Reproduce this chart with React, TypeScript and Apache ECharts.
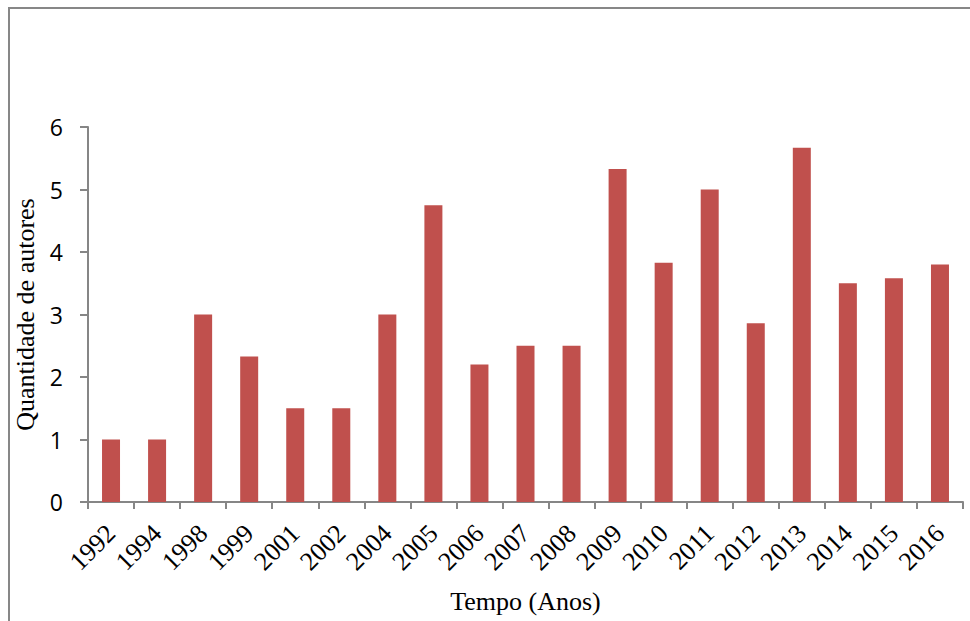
import React, { useEffect, useRef } from "react";
import * as echarts from "echarts";

const years = ["1992","1994","1998","1999","2001","2002","2004","2005","2006","2007","2008","2009","2010","2011","2012","2013","2014","2015","2016"];
const authors = [1, 1, 3, 2.33, 1.5, 1.5, 3, 4.75, 2.2, 2.5, 2.5, 5.33, 3.83, 5, 2.86, 5.67, 3.5, 3.58, 3.8];
const yTicks = [0, 1, 2, 3, 4, 5, 6];

export default function App() {
  const ref = useRef<HTMLDivElement>(null);
  useEffect(() => {
    const chart = echarts.init(ref.current!, undefined, { renderer: "svg" });
    chart.setOption({
      animation: false,
      backgroundColor: "#ffffff",
      graphic: [
        {
          type: "rect",
          shape: { x: 9, y: 8, width: 1100, height: 1000 },
          style: { fill: "none", stroke: "#878787", lineWidth: 2 },
          silent: true,
        },
      ],
      grid: { left: 88, right: 7, top: 127, bottom: 119 },
      xAxis: {
        type: "category",
        data: years,
        name: "Tempo (Anos)",
        nameLocation: "middle",
        nameGap: 86,
        nameTextStyle: { fontFamily: "Liberation Serif", fontSize: 26, color: "#000" },
        axisLine: { lineStyle: { color: "#868686", width: 2 } },
        axisTick: { show: true, length: 7, lineStyle: { color: "#868686", width: 2 } },
        axisLabel: {
          rotate: 45,
          margin: 27,
          interval: 0,
          fontFamily: "Liberation Serif",
          fontSize: 26,
          color: "#000",
        },
      },
      yAxis: {
        type: "value",
        min: yTicks[0],
        max: yTicks[yTicks.length - 1],
        interval: 1,
        name: "Quantidade de autores",
        nameLocation: "middle",
        nameGap: 40,
        nameTextStyle: { fontFamily: "Liberation Serif", fontSize: 26, color: "#000" },
        axisLine: { show: true, lineStyle: { color: "#868686", width: 2 } },
        axisTick: { show: true, length: 8, lineStyle: { color: "#868686", width: 2 } },
        splitLine: { show: false },
        axisLabel: {
          margin: 25,
          fontFamily: "Open Sans",
          fontSize: 23,
          color: "#000",
        },
      },
      series: [
        {
          type: "bar",
          data: authors,
          barWidth: 18,
          itemStyle: { color: "#c0504d" },
        },
      ],
    });
    return () => chart.dispose();
  }, []);
  return (
    <div
      ref={ref}
      style={{ position: "fixed", left: 0, top: 0, width: 970, height: 621 }}
    />
  );
}
